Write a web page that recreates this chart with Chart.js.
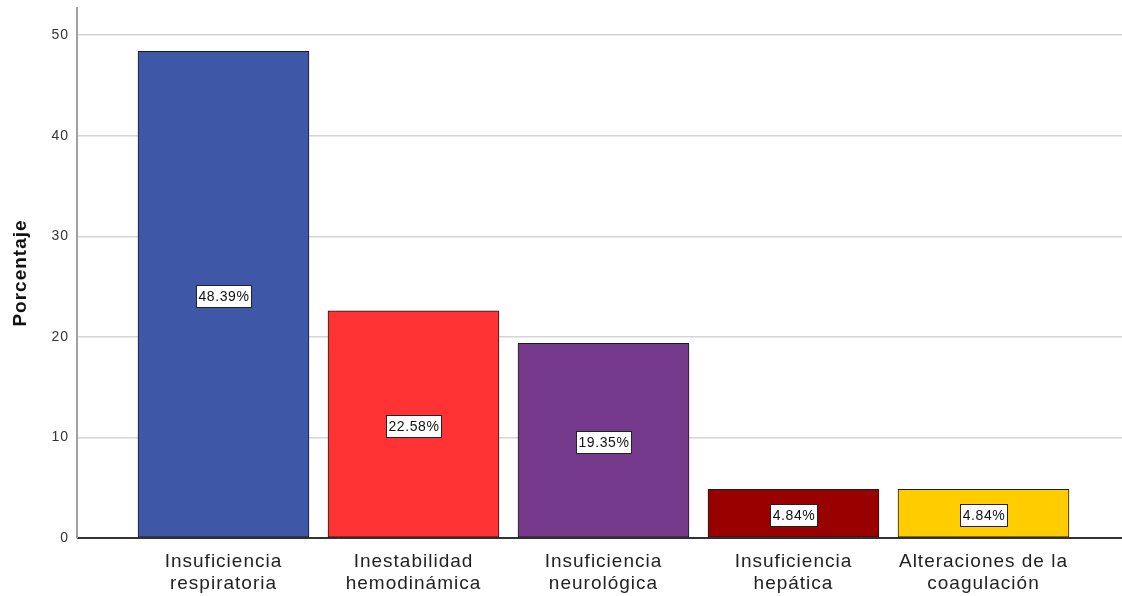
<!DOCTYPE html>
<html><head><meta charset="utf-8">
<script src="https://cdn.jsdelivr.net/npm/chart.js@4"></script>
<style>html,body{margin:0;padding:0;background:#fff;}#wrap{width:1122px;height:596px;position:relative;}</style>
</head><body><div id="wrap"><canvas id="c" width="1122" height="596"></canvas></div>
<script>
const categories = [["Insuficiencia","respiratoria"],["Inestabilidad","hemodinámica"],["Insuficiencia","neurológica"],["Insuficiencia","hepática"],["Alteraciones de la","coagulación"]];
const values = [48.39, 22.58, 19.35, 4.84, 4.84];
const barColors = ["#3e58a7","#ff3333","#763a8c","#990000","#ffcc00"];
const yTicks = [0,10,20,30,40,50];

const FONT = '"Liberation Sans", Arial, sans-serif';

const spacingPlugin = {
  id:'spacing',
  beforeInit(chart){ chart.ctx.letterSpacing = '1px'; },
  beforeLayout(chart){ chart.ctx.letterSpacing = '1px'; },
  beforeDraw(chart){ chart.ctx.letterSpacing = '1px'; }
};

const labelPlugin = {
  id:'valueLabels',
  afterDatasetsDraw(chart){
    const ctx = chart.ctx;
    const meta = chart.getDatasetMeta(0);
    ctx.save();
    ctx.letterSpacing = '0.6px';
    ctx.font = '14px ' + FONT;
    ctx.textAlign='center'; ctx.textBaseline='middle';
    meta.data.forEach((bar,i)=>{
      const txt = values[i].toFixed(2)+'%';
      const cy = (bar.y + bar.base)/2 + 2;
      const w = Math.round(ctx.measureText(txt).width + 4);
      const h = 22;
      const x0 = Math.round(bar.x - w/2)+0.5, y0 = Math.round(cy-h/2)+0.5;
      ctx.fillStyle='#fff';
      ctx.fillRect(x0, y0, w, h);
      ctx.strokeStyle='#222'; ctx.lineWidth=1;
      ctx.strokeRect(x0, y0, w, h);
      ctx.fillStyle='#111';
      ctx.fillText(txt, bar.x + 0.5, cy+1);
    });
    ctx.restore();
  }
};

new Chart(document.getElementById('c'), {
  type:'bar',
  data:{
    datasets:[{
      data: values.map((v,i)=>({x:i,y:v})),
      backgroundColor: barColors,
      borderColor:'#1a1a1a',
      borderWidth:1,
      borderSkipped:false,
      barThickness:171
    }]
  },
  plugins:[spacingPlugin, labelPlugin],
  options:{
    responsive:false,
    animation:false,
    layout:{padding:{top:8,right:0,left:0,bottom:0}},
    plugins:{legend:{display:false},tooltip:{enabled:false}},
    scales:{
      x:{
        type:'linear',
        offset:false,
        min:-0.771, max:4.729,
        afterBuildTicks(s){ s.ticks = categories.map((c,i)=>({value:i})); },
        afterFit(s){ s.height = 58; s.paddingLeft = 0; s.paddingRight = 0; },
        ticks:{
          autoSkip:false, maxRotation:0,
          callback:(v)=>categories[v],
          font:{family:FONT, size:19, lineHeight:1.2},
          color:'#222', padding:12
        },
        grid:{display:false, drawTicks:false, offset:false},
        border:{display:true,color:'#333',width:1}
      },
      y:{
        type:'linear',
        min:0, max:52.7,
        afterBuildTicks(s){ s.ticks = yTicks.map(v=>({value:v})); },
        afterFit(s){ s.width = 77; s.paddingTop = 0; s.paddingBottom = 0; },
        ticks:{
          font:{family:FONT, size:14},
          color:'#333', padding:8
        },
        grid:{
          color:(c)=> c.tick && c.tick.value===0 ? '#333' : '#d4d4d4',
          lineWidth:1.5, drawTicks:false
        },
        border:{display:true,color:'#a0a0a0',width:2},
        title:{display:true,text:'Porcentaje',
          font:{family:FONT, size:19, weight:'bold'},
          color:'#111', padding:{top:9,bottom:0}}
      }
    }
  }
});
</script></body></html>
